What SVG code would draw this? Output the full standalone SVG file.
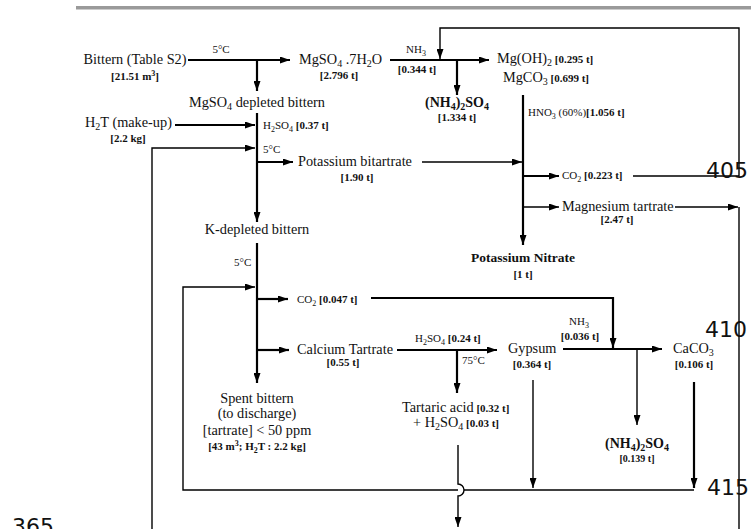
<svg xmlns="http://www.w3.org/2000/svg" width="751" height="529" viewBox="0 0 751 529">
<style>
text{font-family:"Liberation Serif","Times New Roman",serif;fill:#111}
.m{font-size:14.3px}
.s{font-size:11px}
.b{font-size:11px;font-weight:bold}
.bb{font-size:14px;font-weight:bold}
.c{text-anchor:middle}
.ln{font-family:"DejaVu Sans",sans-serif;font-size:22px;fill:#111}
.k{fill:none;stroke:#000;stroke-width:2.2}
.t{fill:none;stroke:#000;stroke-width:1.4}
</style>
<defs>
<marker id="ah" markerUnits="userSpaceOnUse" markerWidth="10" markerHeight="7" refX="10" refY="3.5" orient="auto">
<path d="M0,0 L10,3.5 L0,7 z" fill="#000"/>
</marker>
</defs>
<rect x="0" y="0" width="751" height="529" fill="#fff"/>
<line x1="76" y1="7.8" x2="751" y2="7.8" stroke="#9a9a9a" stroke-width="3.6"/>

<g id="connectors">
<path class="k" d="M188,60 H290" marker-end="url(#ah)"/>
<path class="k" d="M257,60 V91" marker-end="url(#ah)"/>
<path class="k" d="M257,113 V222" marker-end="url(#ah)"/>
<path class="k" d="M175,125 H255" marker-end="url(#ah)"/>
<path class="t" d="M152,529 V148 H255" marker-end="url(#ah)"/>
<path class="k" d="M257,162 H293" marker-end="url(#ah)"/>
<path class="t" d="M422,162 H522" marker-end="url(#ah)"/>
<path class="k" d="M390,60 H489" marker-end="url(#ah)"/>
<path class="k" d="M457,60 V95" marker-end="url(#ah)"/>
<path class="t" d="M633,176 H739 V28 H440 V59" marker-end="url(#ah)"/>
<path class="k" d="M523,95 V245" marker-end="url(#ah)"/>
<path class="k" d="M523,176 H559" marker-end="url(#ah)"/>
<path class="t" d="M523,207 H559" marker-end="url(#ah)"/>
<path class="t" d="M675,207 H738" marker-end="url(#ah)"/>
<path class="t" d="M739,207 V529"/>
<path class="k" d="M257,243 V383" marker-end="url(#ah)"/>
<path class="k" d="M257,299 H288" marker-end="url(#ah)"/>
<path class="k" d="M371,298 H613 V348" marker-end="url(#ah)"/>
<path class="k" d="M257,350 H289" marker-end="url(#ah)"/>
<path class="k" d="M397,350 H497" marker-end="url(#ah)"/>
<path class="k" d="M457,350 V393" marker-end="url(#ah)"/>
<path class="k" d="M563,349 H662" marker-end="url(#ah)"/>
<path class="t" d="M637,349 V425" marker-end="url(#ah)"/>
<path class="t" d="M533,380 V488" marker-end="url(#ah)"/>
<path class="k" d="M694,382 V488" marker-end="url(#ah)"/>
<path class="t" d="M694,490 H464"/>
<path class="t" d="M458,490 H183 V287 H255" marker-end="url(#ah)"/>
<path class="t" d="M458,445 V484 A6,6 0 0 1 458,496 V527" marker-end="url(#ah)"/>
</g>

<g id="bittern">
<text class="m c" x="135" y="64">Bittern (Table S2)</text>
<text class="b c" x="135" y="80">[21.51 m<tspan dy="-4" font-size="8">3</tspan><tspan dy="4">]</tspan></text>
<text class="s c" x="221" y="53">5°C</text>
</g>
<g id="mgso4">
<text class="m" x="299" y="64">MgSO<tspan dy="3" font-size="10">4</tspan><tspan dy="-3"> .7H</tspan><tspan dy="3" font-size="10">2</tspan><tspan dy="-3">O</tspan></text>
<text class="b c" x="339" y="79">[2.796 t]</text>
<text class="s c" x="416" y="53">NH<tspan dy="2.5" font-size="8">3</tspan></text>
<text class="b c" x="417" y="73">[0.344 t]</text>
</g>
<g id="nh4so4-top">
<text class="bb c" x="457" y="107">(NH<tspan dy="2.5" font-size="10">4</tspan><tspan dy="-2.5">)</tspan><tspan dy="2.5" font-size="10">2</tspan><tspan dy="-2.5">SO</tspan><tspan dy="2.5" font-size="10">4</tspan></text>
<text class="b c" x="457" y="121">[1.334 t]</text>
</g>
<g id="mgoh">
<text class="m" x="497" y="63">Mg(OH)<tspan dy="3" font-size="10">2</tspan><tspan dy="-3" class="b"> [0.295 t]</tspan></text>
<text class="m" x="503" y="82">MgCO<tspan dy="3" font-size="10">3</tspan><tspan dy="-3" class="b"> [0.699 t]</tspan></text>
<text class="s" x="528" y="116">HNO<tspan dy="2.5" font-size="8">3</tspan><tspan dy="-2.5"> (60%)</tspan><tspan class="b">[1.056 t]</tspan></text>
</g>
<g id="mgso4-depleted">
<text class="m c" x="257" y="107">MgSO<tspan dy="3" font-size="10">4</tspan><tspan dy="-3"> depleted bittern</tspan></text>
<text class="s" x="263" y="129">H<tspan dy="2.5" font-size="8">2</tspan><tspan dy="-2.5">SO</tspan><tspan dy="2.5" font-size="8">4</tspan><tspan dy="-2.5" class="b"> [0.37 t]</tspan></text>
<text class="s" x="263" y="153">5°C</text>
</g>
<g id="h2t">
<text class="m" x="85" y="127">H<tspan dy="3" font-size="10">2</tspan><tspan dy="-3">T (make-up)</tspan></text>
<text class="b c" x="128" y="142">[2.2 kg]</text>
</g>
<g id="kbitartrate">
<text class="m" x="298" y="166">Potassium bitartrate</text>
<text class="b c" x="357" y="181">[1.90 t]</text>
</g>
<g id="co2-top">
<text class="s" x="562" y="179">CO<tspan dy="2.5" font-size="8">2</tspan><tspan dy="-2.5" class="b"> [0.223 t]</tspan></text>
</g>
<g id="mg-tartrate">
<text class="m" x="562" y="211">Magnesium tartrate</text>
<text class="b c" x="617" y="223">[2.47 t]</text>
</g>
<g id="kno3">
<text class="bb c" x="523" y="262" style="font-size:13.5px">Potassium Nitrate</text>
<text class="b c" x="523" y="278">[1 t]</text>
</g>
<g id="k-depleted">
<text class="m c" x="257" y="234">K-depleted bittern</text>
<text class="s" x="234" y="266">5°C</text>
</g>
<g id="co2-mid">
<text class="s" x="297" y="303">CO<tspan dy="2.5" font-size="8">2</tspan><tspan dy="-2.5" class="b"> [0.047 t]</tspan></text>
</g>
<g id="ca-tartrate">
<text class="m" x="297" y="354">Calcium Tartrate</text>
<text class="b c" x="343" y="366">[0.55 t]</text>
<text class="s" x="415" y="342">H<tspan dy="2.5" font-size="8">2</tspan><tspan dy="-2.5">SO</tspan><tspan dy="2.5" font-size="8">4</tspan><tspan dy="-2.5" class="b"> [0.24 t]</tspan></text>
<text class="s" x="462" y="364">75°C</text>
</g>
<g id="gypsum">
<text class="m" x="508" y="353">Gypsum</text>
<text class="b c" x="532" y="368">[0.364 t]</text>
<text class="s c" x="579" y="325">NH<tspan dy="2.5" font-size="8">3</tspan></text>
<text class="b c" x="580" y="340">[0.036 t]</text>
</g>
<g id="caco3">
<text class="m" x="673" y="353">CaCO<tspan dy="3" font-size="10">3</tspan></text>
<text class="b c" x="694" y="368">[0.106 t]</text>
</g>
<g id="tartaric">
<text class="m" x="402" y="412">Tartaric acid<tspan class="b"> [0.32 t]</tspan></text>
<text class="m" x="413" y="427">+ H<tspan dy="3" font-size="10">2</tspan><tspan dy="-3">SO</tspan><tspan dy="3" font-size="10">4</tspan><tspan dy="-3" class="b"> [0.03 t]</tspan></text>
</g>
<g id="nh4so4-bottom">
<text class="bb c" x="637" y="448">(NH<tspan dy="2.5" font-size="10">4</tspan><tspan dy="-2.5">)</tspan><tspan dy="2.5" font-size="10">2</tspan><tspan dy="-2.5">SO</tspan><tspan dy="2.5" font-size="10">4</tspan></text>
<text class="b c" x="637" y="462" style="font-size:10px">[0.139 t]</text>
</g>
<g id="spent">
<text class="m c" x="257" y="403">Spent bittern</text>
<text class="m c" x="257" y="418">(to discharge)</text>
<text class="m c" x="257" y="435">[tartrate] &lt; 50 ppm</text>
<text class="b c" x="257" y="450">[43 m<tspan dy="-4" font-size="8">3</tspan><tspan dy="4">; H</tspan><tspan dy="3" font-size="8">2</tspan><tspan dy="-3">T : 2.2 kg]</tspan></text>
</g>
<g id="line-numbers">
<text class="ln" x="706" y="178">405</text>
<text class="ln" x="705" y="337">410</text>
<text class="ln" x="707" y="495">415</text>
<text class="ln" x="12" y="534">365</text>
</g>
</svg>
